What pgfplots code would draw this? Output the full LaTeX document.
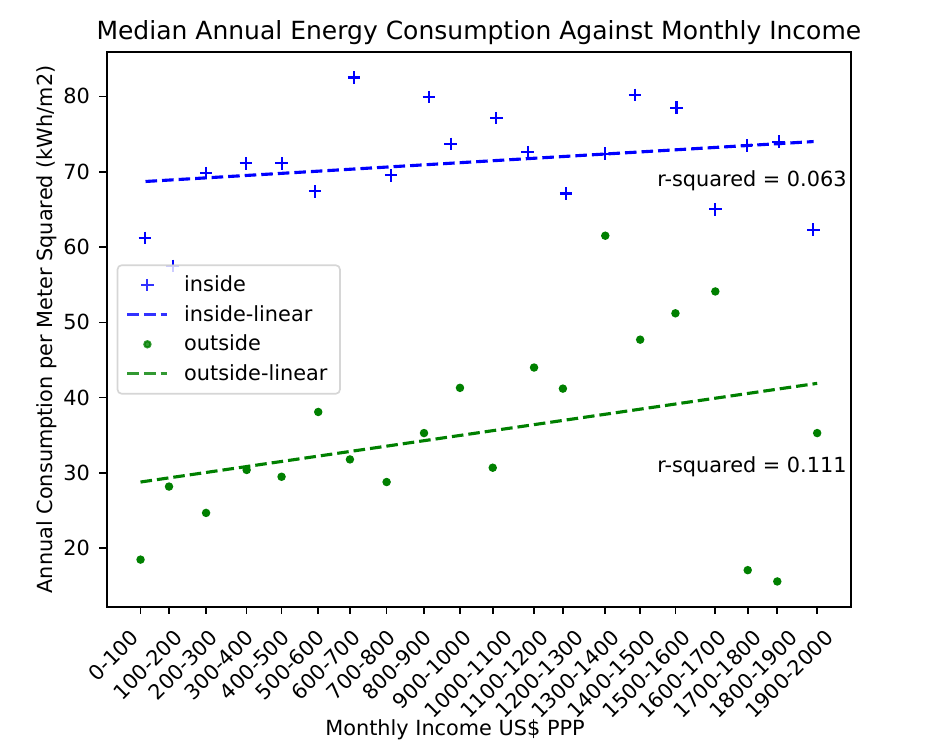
\documentclass[border=0pt]{standalone}
\usepackage{fontspec}
\setmainfont{DejaVu Sans}
\usepackage{pgfplots}
\pgfplotsset{compat=1.18}
\definecolor{mplblue}{rgb}{0,0,1}
\definecolor{mplgreen}{rgb}{0,0.5,0}
\begin{document}
\begin{tikzpicture}
\begin{axis}[
  scale only axis,
  width=357.26pt, height=266.11pt,
  xmin=-45, xmax=2045, ymin=12.25, ymax=85.85,
  clip=false,
  xtick={50,130,234,348,446,549,638,741,846,947,1039,1155,1236,1355,1453,1552,1664,1755,1838,1950},
  xticklabels={,,,,,,,,,,,,,,,,,,,},
  extra x ticks={43,165.2,265.2,365.2,465.2,565.2,665.2,765.2,865.2,977,1092.7,1192.7,1292.7,1392.7,1492.7,1592.7,1692.7,1792.7,1892.7,1992.7},
  extra x tick labels={0-100,100-200,200-300,300-400,400-500,500-600,600-700,700-800,800-900,900-1000,1000-1100,1100-1200,1200-1300,1300-1400,1400-1500,1500-1600,1600-1700,1700-1800,1800-1900,1900-2000},
  extra x tick style={major tick style={opacity=0}},
  ytick={20,30,40,50,60,70,80},
  tick align=outside, tick pos=left,
  major tick length=3.5pt,
  every tick/.style={black, line width=0.8pt},
  axis line style={black, line width=0.8pt},
  /pgf/number format/assume math mode=true,
  tick label style={font=\fontsize{10}{12}\selectfont},
  xticklabel style={rotate=45, anchor=north east, inner xsep=7.75pt, inner ysep=1.75pt},
  yticklabel style={xshift=-1pt},
  legend image code/.code={\draw[mark repeat=2,mark phase=2,#1] plot coordinates {(0pt,0pt) (9.6pt,0pt) (19.2pt,0pt)};},
  legend cell align=left,
  legend style={at={(0,0.5)}, anchor=west, xshift=4.8pt,
    draw=black!20, line width=0.8pt, rounded corners=2pt,
    fill=white, fill opacity=0.8, draw opacity=0.8, text opacity=1,
    inner xsep=4pt, inner ysep=3pt, row sep=1.1pt,
    /tikz/every odd column/.append style={column sep=5.3pt},
    font=\fontsize{10}{12}\selectfont},
]
\addplot[only marks, mark=+, mark size=3pt, color=mplblue, mark options={line width=1pt}]
  coordinates {(62,61.2) (140,57.5) (234,69.8) (346,71.1) (446,71.1) (540,67.4) (650,82.5) (754,69.5) (860,79.9) (921,73.7) (1049,77.1) (1137,72.6) (1245,67.1) (1355,72.4) (1439,80.2) (1555,78.5) (1664,65.0) (1753,73.5) (1842,74.0) (1939,62.3)};
\addlegendentry{inside}
\addplot[color=mplblue, line width=1.5pt, dash pattern=on 5.55pt off 2.4pt]
  coordinates {(64,68.7) (1940,74.0)};
\addlegendentry{inside-linear}
\addplot[only marks, mark=*, mark size=1.5pt, color=mplgreen, mark options={line width=1pt}]
  coordinates {(50,18.5) (130,28.2) (234,24.7) (348,30.4) (446,29.5) (549,38.1) (638,31.8) (741,28.8) (846,35.3) (947,41.3) (1039,30.7) (1155,44.0) (1236,41.2) (1355,61.5) (1453,47.7) (1552,51.2) (1664,54.1) (1755,17.1) (1838,15.6) (1950,35.3)};
\addlegendentry{outside}
\addplot[color=mplgreen, line width=1.5pt, dash pattern=on 5.55pt off 2.4pt]
  coordinates {(50,28.8) (1950,41.9)};
\addlegendentry{outside-linear}
\node[anchor=base west, inner sep=0pt, font=\fontsize{10}{12}\selectfont] at (axis cs:1500,68) {r-squared = 0.063};
\node[anchor=base west, inner sep=0pt, font=\fontsize{10}{12}\selectfont] at (axis cs:1500,30) {r-squared = 0.111};
\end{axis}
\node[anchor=base, inner sep=0pt, font=\fontsize{12}{14}\selectfont] at ([yshift=6pt]current axis.north) {Median Annual Energy Consumption Against Monthly Income};
\node[anchor=base, inner sep=0pt, font=\fontsize{10}{12}\selectfont] at ([xshift=-11.45pt,yshift=-61.8pt]current axis.south) {Monthly Income US\$ PPP};
\node[anchor=base, rotate=90, inner sep=0pt, font=\fontsize{10}{12}\selectfont] at ([xshift=-26.1pt]current axis.west) {Annual Consumption per Meter Squared (kWh/m2)};
\pgfresetboundingbox
\path[use as bounding box] ([xshift=-51.22pt,yshift=-70.22pt]current axis.south west) rectangle ([xshift=43.68pt,yshift=25.1pt]current axis.north east);
\end{tikzpicture}
\end{document}
